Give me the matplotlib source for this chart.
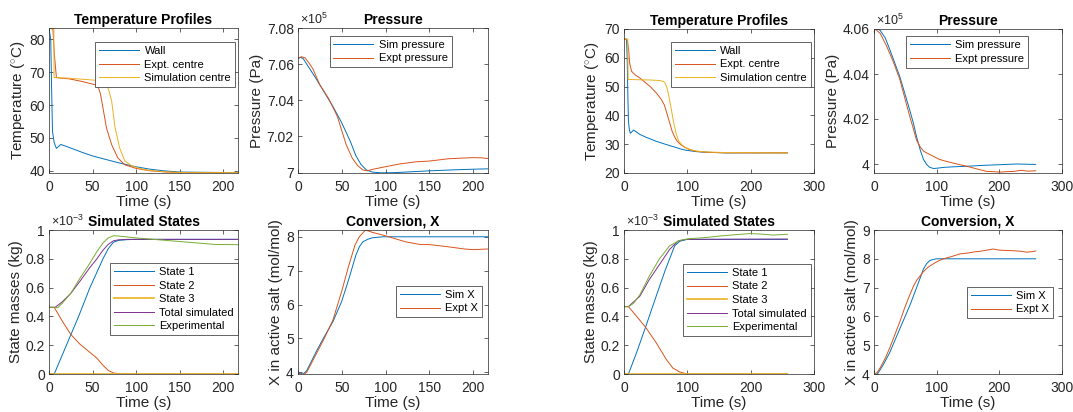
import matplotlib
matplotlib.use("Agg")
import matplotlib.pyplot as plt
from matplotlib.ticker import FuncFormatter

plt.rcParams["font.family"] = ["Liberation Sans", "DejaVu Sans"]
plt.rcParams["mathtext.fontset"] = "custom"
plt.rcParams["mathtext.rm"] = "Liberation Sans"
plt.rcParams["mathtext.it"] = "Liberation Sans:italic"
plt.rcParams["mathtext.bf"] = "Liberation Sans:bold"

# MATLAB default line colours
C_BLUE = "#0072BD"
C_RED = "#D95319"
C_YEL = "#EDB120"
C_PUR = "#7E2F8E"
C_GRN = "#77AC30"
TXT = "#262626"

# ---------------- run A (left group) ----------------
tA_wall = [0, 2, 3, 4, 6, 8.5, 11, 13.5, 20, 30, 40, 50, 60, 70, 80, 90, 100, 115, 130, 150, 217]
TA_wall = [83.4, 80, 65, 52, 48.5, 46.8, 47.4, 48.0, 47.4, 46.4, 45.4, 44.5, 43.8, 43.1, 42.4,
           41.8, 41.2, 40.5, 40.0, 39.6, 39.4]
tA_expt = [0, 4.5, 6, 8.5, 15, 23, 38, 47, 53, 56.5, 59, 62, 66, 72, 79, 87, 100, 115, 135, 160, 217]
TA_expt = [83.4, 83.2, 76, 68.4, 68.2, 68.0, 67.2, 66.6, 66.2, 65.5, 63.5, 59.1, 53, 47.9, 43.9,
           41.8, 40.7, 40.0, 39.6, 39.4, 39.4]
tA_sim = [0, 5.6, 5.8, 23, 47, 58, 63, 66, 69, 72, 75.6, 81, 87, 95, 104, 115, 135, 160, 217]
TA_sim = [83.4, 83.4, 68.4, 68.2, 67.7, 67.5, 67.0, 66.2, 64.2, 61.1, 53.5, 47.0, 43.0, 41.5,
          40.7, 40.1, 39.6, 39.4, 39.4]

tA_psim = [0, 3, 6, 10, 20, 30, 40, 50, 60, 66, 72, 78, 85, 95, 110, 130, 150, 175, 200, 217]
pA_sim = [7.0632, 7.0638, 7.063, 7.060, 7.0525, 7.0445, 7.0365, 7.0275, 7.017, 7.0095, 7.0045,
          7.0015, 7.0003, 6.9999, 7.0, 7.0005, 7.001, 7.0015, 7.0019, 7.0021]  # x1e5 Pa
tA_pexp = [0, 4, 8, 12, 17, 25, 35, 45, 55, 62, 68, 74, 79, 85, 97, 116, 135, 150, 172, 200, 210, 217]
pA_exp = [7.0632, 7.0641, 7.0635, 7.061, 7.0574, 7.0485, 7.041, 7.031, 7.0155, 7.008, 7.004,
          7.0015, 7.001, 7.0018, 7.003, 7.0048, 7.006, 7.0064, 7.0077, 7.0083, 7.0082, 7.0078]

tA_s1 = [0, 6, 20, 34, 47, 62, 68, 74, 80, 90, 100, 217]
mA_s1 = [0, 0, 0.2, 0.4, 0.6, 0.8, 0.87, 0.915, 0.928, 0.933, 0.935, 0.935]  # x1e-3 kg
tA_s2 = [0, 6, 15, 25, 35, 45, 55, 62, 68, 74, 82, 90, 217]
mA_s2 = [0.463, 0.463, 0.37, 0.275, 0.21, 0.16, 0.11, 0.06, 0.025, 0.007, 0.001, 0, 0]
tA_s3 = [0, 217]
mA_s3 = [0, 0]
tA_tot = [0, 7, 15, 25, 35, 47, 55, 62, 68, 74, 80, 90, 217]
mA_tot = [0.463, 0.463, 0.50, 0.56, 0.64, 0.74, 0.80, 0.86, 0.90, 0.925, 0.932, 0.935, 0.935]
tA_mexp = [0, 6, 10, 15, 25, 35, 47, 55, 62, 68, 74, 80, 100, 130, 160, 190, 217]
mA_exp = [0.463, 0.463, 0.46, 0.49, 0.56, 0.66, 0.77, 0.85, 0.91, 0.945, 0.96, 0.958, 0.945,
          0.93, 0.915, 0.9, 0.898]

tA_xsim = [0, 3, 6, 10, 21, 30, 40, 50, 58, 66, 70, 74, 80, 85, 97, 217]
XA_sim = [4.0, 3.97, 3.95, 4.05, 4.62, 5.05, 5.5, 6.1, 6.75, 7.45, 7.7, 7.85, 7.93, 7.97, 8.0, 8.0]
tA_xexp = [0, 3, 6, 10, 20, 30, 40, 50, 58, 65, 70, 77, 85, 97, 110, 123, 140, 150, 173, 190, 200, 217]
XA_exp = [3.98, 3.95, 3.93, 4.0, 4.5, 5.0, 5.55, 6.4, 7.15, 7.75, 8.0, 8.2, 8.13, 8.05, 7.95,
          7.85, 7.77, 7.77, 7.7, 7.64, 7.62, 7.64]

# ---------------- run B (right group) ----------------
tB_wall = [0, 4, 5, 6, 7, 8.5, 10, 12, 15, 20, 25, 35, 51, 65, 77, 90, 98, 115, 130, 160, 258]
TB_wall = [66.5, 66.5, 60, 48, 38, 35, 33.8, 34.2, 34.9, 34.2, 33.4, 32.4, 31.0, 30.0, 29.2,
           28.3, 27.9, 27.4, 27.2, 27.0, 27.0]
tB_expt = [0, 5, 7, 9, 12, 18, 25, 33, 41, 51, 59, 64, 68, 72, 76, 80, 84, 90, 96, 105, 115,
           130, 160, 258]
TB_expt = [66.5, 66.2, 63.5, 58, 55.3, 54, 53, 51.5, 50.1, 47.8, 45.5, 43.5, 40.5, 37.5, 34.5,
           32.5, 31, 29.8, 28.9, 28.0, 27.5, 27.2, 27.0, 27.0]
tB_sim = [0, 6, 6.5, 20, 40, 57, 62, 65, 68, 71, 74, 78, 82, 86, 91, 96, 105, 115, 130, 160, 258]
TB_sim = [66.5, 66.5, 52.5, 52.4, 52.3, 52.1, 51.8, 51.2, 49.5, 46.5, 43, 38, 34, 31.2, 29.9,
          29.0, 28.1, 27.6, 27.3, 27.1, 27.0]

tB_psim = [0, 5, 10, 18, 25, 33, 41, 49, 57, 63, 68, 74, 79, 84, 89, 95, 103, 111, 130, 148,
           175, 201, 228, 258]
pB_sim = [4.0603, 4.0603, 4.0593, 4.056, 4.051, 4.045, 4.039, 4.0315, 4.024, 4.018, 4.012,
          4.006, 4.002, 3.9998, 3.9985, 3.998, 3.9982, 3.9985, 3.9988, 3.999, 3.9994, 3.9997,
          4.0, 3.9998]
tB_pexp = [0, 4, 10, 20, 30, 41, 49, 57, 63, 68, 74, 79, 87, 95, 103, 111, 125, 137, 148, 159,
           170, 180, 190, 201, 212, 222, 230, 236, 245, 258]
pB_exp = [4.06, 4.0595, 4.058, 4.0525, 4.046, 4.0378, 4.0295, 4.0212, 4.0155, 4.0105, 4.0075,
          4.0057, 4.0045, 4.0034, 4.0022, 4.0015, 4.0005, 3.9997, 3.999, 3.9982, 3.9974, 3.9967,
          3.9966, 3.9964, 3.9966, 3.9967, 3.997, 3.9972, 3.9968, 3.997]

tB_s1 = [0, 7, 20, 34, 50, 65, 80, 88, 100, 258]
mB_s1 = [0, 0, 0.15, 0.325, 0.53, 0.72, 0.89, 0.922, 0.935, 0.935]
tB_s2 = [0, 7, 20, 34, 51, 67, 77, 88, 100, 258]
mB_s2 = [0.468, 0.468, 0.40, 0.325, 0.216, 0.10, 0.042, 0.014, 0.0, 0.0]
tB_s3 = [0, 258]
mB_s3 = [0, 0]
tB_tot = [0, 7, 25, 40, 56, 72, 85, 98, 258]
mB_tot = [0.468, 0.468, 0.54, 0.656, 0.76, 0.865, 0.923, 0.935, 0.937]
tB_mexp = [0, 7, 15, 25, 40, 56, 72, 88, 104, 130, 151, 175, 198, 215, 235, 258]
mB_exp = [0.468, 0.468, 0.49, 0.55, 0.68, 0.80, 0.89, 0.928, 0.94, 0.948, 0.958, 0.967, 0.975,
          0.972, 0.965, 0.97]

tB_xsim = [0, 4, 7, 15, 25, 41, 57, 68, 74, 79, 84, 89, 95, 100, 258]
XB_sim = [4.0, 3.97, 4.05, 4.33, 4.74, 5.56, 6.37, 7.0, 7.35, 7.65, 7.83, 7.94, 7.98, 8.0, 8.0]
tB_xexp = [0, 5, 10, 18, 25, 33, 41, 49, 57, 63, 68, 74, 79, 87, 95, 103, 111, 124, 137, 150,
           160, 169, 180, 190, 200, 212, 222, 235, 244, 252, 258]
XB_exp = [4.0, 4.05, 4.22, 4.55, 4.9, 5.35, 5.8, 6.3, 6.74, 7.05, 7.25, 7.42, 7.56, 7.72, 7.83,
          7.93, 8.0, 8.08, 8.17, 8.2, 8.24, 8.26, 8.3, 8.34, 8.3, 8.29, 8.28, 8.26, 8.23, 8.25, 8.27]


def style_axes(ax):
    """MATLAB-like box, inward ticks on all sides"""
    for s in ax.spines.values():
        s.set_color(TXT)
        s.set_linewidth(0.5)
    ax.tick_params(direction="in", top=True, right=True, length=3, width=0.5,
                   labelsize=10, colors=TXT, pad=3)
    ax.tick_params(axis="x", pad=5)
    ax.yaxis.set_major_formatter(FuncFormatter(lambda v, p: "%g" % round(v, 6)))
    ax.xaxis.set_major_formatter(FuncFormatter(lambda v, p: "%g" % round(v, 6)))
    ax.set_xlabel("Time (s)", fontsize=11, color=TXT, labelpad=1)


def add_legend(ax, anchor):
    leg = ax.legend(loc="upper right", bbox_to_anchor=anchor, fontsize=8,
                    handlelength=3.6, labelspacing=0.32, borderpad=0.35,
                    handletextpad=0.5, fancybox=False, framealpha=1,
                    edgecolor=TXT, borderaxespad=0)
    leg.get_frame().set_linewidth(0.5)


def add_exponent(ax, txt):
    ax.text(0.01, 1.005, txt, transform=ax.transAxes, ha="left", va="bottom",
            fontsize=9, color=TXT)


def draw_group(axs, d, xmax, xticks, temp_lim, p_lim, p_ticks, x_lim, x_ticks, legs):
    ax1, ax2, ax3, ax4 = axs
    lw = 0.7

    ax1.plot(d["tw"], d["Tw"], color=C_BLUE, lw=lw, label="Wall")
    ax1.plot(d["te"], d["Te"], color=C_RED, lw=lw, label="Expt. centre")
    ax1.plot(d["ts"], d["Ts"], color=C_YEL, lw=lw, label="Simulation centre")
    ax1.set_ylim(*temp_lim)
    ax1.set_ylabel(r"Temperature ($^{\circ}$C)", fontsize=11, color=TXT, labelpad=2)
    ax1.set_title("Temperature Profiles", fontsize=10, fontweight="bold", pad=3)

    ax2.plot(d["tps"], d["ps"], color=C_BLUE, lw=lw, label="Sim pressure")
    ax2.plot(d["tpe"], d["pe"], color=C_RED, lw=lw, label="Expt pressure")
    ax2.set_ylim(*p_lim)
    ax2.set_yticks(p_ticks)
    ax2.set_ylabel("Pressure (Pa)", fontsize=11, color=TXT, labelpad=2)
    ax2.set_title("Pressure", fontsize=10, fontweight="bold", pad=3)
    add_exponent(ax2, r"$\times$10$^{5}$")

    ax3.plot(d["ts1"], d["s1"], color=C_BLUE, lw=lw, label="State 1")
    ax3.plot(d["ts2"], d["s2"], color=C_RED, lw=lw, label="State 2")
    ax3.plot(d["ts3"], d["s3"], color=C_YEL, lw=1.2, label="State 3")
    ax3.plot(d["ttot"], d["tot"], color=C_PUR, lw=lw, label="Total simulated")
    ax3.plot(d["tme"], d["me"], color=C_GRN, lw=lw, label="Experimental")
    ax3.set_ylim(0, 1)
    ax3.set_yticks([0, 0.2, 0.4, 0.6, 0.8, 1])
    ax3.set_ylabel("State masses (kg)", fontsize=11, color=TXT, labelpad=2)
    ax3.set_title("Simulated States", fontsize=10, fontweight="bold", pad=3)
    add_exponent(ax3, r"$\times$10$^{-3}$")

    ax4.plot(d["txs"], d["xs"], color=C_BLUE, lw=lw, label="Sim X")
    ax4.plot(d["txe"], d["xe"], color=C_RED, lw=lw, label="Expt X")
    ax4.set_ylim(*x_lim)
    ax4.set_yticks(x_ticks)
    ax4.set_ylabel("X in active salt (mol/mol)", fontsize=11, color=TXT, labelpad=2)
    ax4.set_title("Conversion, X", fontsize=10, fontweight="bold", pad=3)

    for ax, anc in zip(axs, legs):
        ax.set_xlim(0, xmax)
        ax.set_xticks(xticks)
        style_axes(ax)
        add_legend(ax, anc)


def make_figure():
    fig = plt.figure(figsize=(10.73, 4.12), dpi=100)
    W, H = 1073.0, 412.0

    def box(L, R, T, B):
        return fig.add_axes([L / W, 1 - B / H, (R - L) / W, (B - T) / H])

    axA = [box(49, 238, 28, 173), box(298, 488, 28, 173),
           box(49, 238, 230, 374), box(298, 488, 230, 374)]
    axB = [box(624, 814, 29, 173), box(874, 1062, 29, 173),
           box(624, 814, 230, 374), box(874, 1062, 230, 374)]

    dA = dict(tw=tA_wall, Tw=TA_wall, te=tA_expt, Te=TA_expt, ts=tA_sim, Ts=TA_sim,
              tps=tA_psim, ps=pA_sim, tpe=tA_pexp, pe=pA_exp,
              ts1=tA_s1, s1=mA_s1, ts2=tA_s2, s2=mA_s2, ts3=tA_s3, s3=mA_s3,
              ttot=tA_tot, tot=mA_tot, tme=tA_mexp, me=mA_exp,
              txs=tA_xsim, xs=XA_sim, txe=tA_xexp, xe=XA_exp)
    dB = dict(tw=tB_wall, Tw=TB_wall, te=tB_expt, Te=TB_expt, ts=tB_sim, Ts=TB_sim,
              tps=tB_psim, ps=pB_sim, tpe=tB_pexp, pe=pB_exp,
              ts1=tB_s1, s1=mB_s1, ts2=tB_s2, s2=mB_s2, ts3=tB_s3, s3=mB_s3,
              ttot=tB_tot, tot=mB_tot, tme=tB_mexp, me=mB_exp,
              txs=tB_xsim, xs=XB_sim, txe=tB_xexp, xe=XB_exp)

    draw_group(axA, dA, 217, [0, 50, 100, 150, 200], (39.3, 83.5),
               (6.9998, 7.08), [7.0, 7.02, 7.04, 7.06, 7.08],
               (3.95, 8.2), [4, 5, 6, 7, 8],
               [(0.984, 0.903), (0.81, 0.945), (1.0, 0.77), (0.968, 0.611)])
    draw_group(axB, dB, 300, [0, 100, 200, 300], (20, 70),
               (3.996, 4.06), [4.0, 4.02, 4.04, 4.06],
               (4, 9), [4, 5, 6, 7, 8, 9],
               [(0.984, 0.91), (0.82, 0.95), (0.984, 0.764), (0.952, 0.604)])
    axB[0].set_yticks([20, 30, 40, 50, 60, 70])

    fig.savefig("out.png", dpi=100)


if __name__ == "__main__":

    make_figure()
